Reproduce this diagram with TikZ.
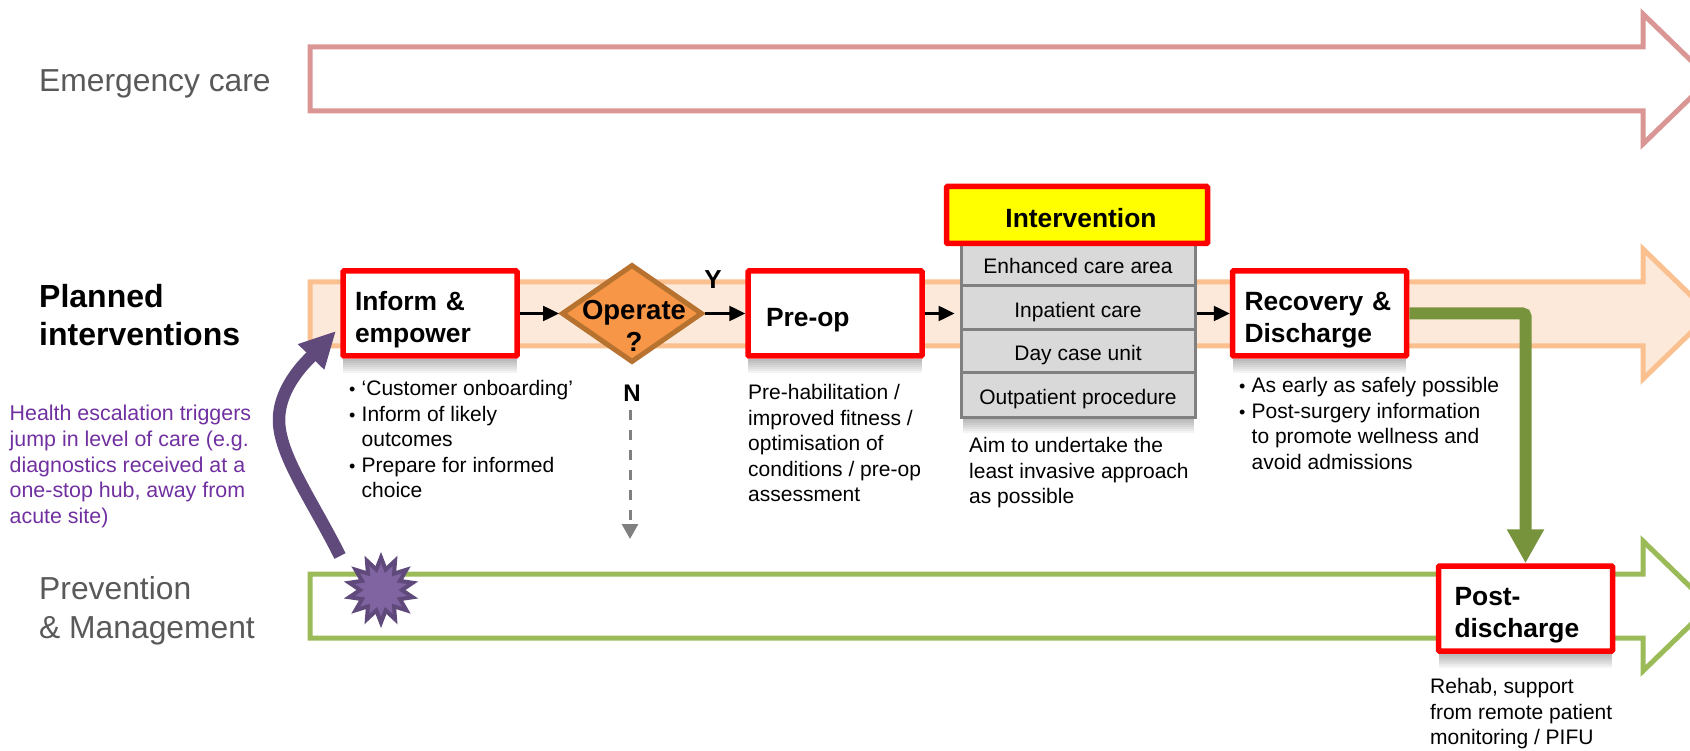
\documentclass[tikz,border=0pt]{standalone}
\usepackage{fontspec}
\setmainfont{Liberation Sans}
\usetikzlibrary{arrows.meta,calc,shapes.geometric}
\definecolor{emergline}{HTML}{D99694}
\definecolor{plannedline}{HTML}{FAC090}
\definecolor{plannedfill}{HTML}{FDE9D9}
\definecolor{preventline}{HTML}{9BBB59}
\definecolor{greentrack}{HTML}{77933C}
\definecolor{opfill}{HTML}{F79646}
\definecolor{opline}{HTML}{B7722F}
\definecolor{jumpline}{HTML}{604A7B}
\definecolor{jumpfill}{HTML}{8064A2}
\definecolor{jumptext}{HTML}{7030A0}
\definecolor{boxyellow}{RGB}{255,255,0}
\definecolor{boxred}{RGB}{255,0,0}
\newcommand{\boxfont}{\fontsize{26.4}{32}\selectfont\bfseries}
\newcommand{\bodyfont}{\fontsize{21}{25.6}\selectfont}
\newcommand{\lanefont}{\fontsize{31.8}{39}\selectfont}
\newcommand{\bul}{\makebox[12.5pt][l]{\fontsize{18}{18}\selectfont\textbullet}}
\newcommand{\hang}{\hspace*{12.5pt}}
\tikzset{
  stepbox/.style={draw=boxred,fill=white,line width=5.5pt,rounded corners=1pt,text width=150pt,inner xsep=12pt,inner ysep=0pt,
    minimum height=85pt,align=left,font=\boxfont,text height=32pt},
  introw/.style={draw=gray,fill=black!15,line width=3pt,minimum width=234pt,inner sep=0pt,font=\bodyfont,text height=21pt,text depth=2pt},
  note/.style={anchor=north west,align=left,inner sep=0pt,font=\bodyfont},
  lane/.style={anchor=west,align=left,inner sep=0pt,font=\lanefont},
  flow/.style={line width=2.5pt,-{Triangle[length=16pt,width=15pt]}}
}
\begin{document}
\begin{tikzpicture}[x=1pt,y=-1pt]
      \useasboundingbox (0,0) rectangle (1690,751);
      \clip (0,0) rectangle (1690,751);
      \foreach \cy/\cline/\cfill in {79/emergline/white,314/plannedline/plannedfill,606/preventline/white}
        \draw[line width=5pt,draw=\cline,fill=\cfill] (310,\cy-32)--(1643,\cy-32)--(1643,\cy-65)--(1710,\cy)--(1643,\cy+65)--(1643,\cy+32)--(310,\cy+32)--cycle;

      \node[lane,text=black!65] (emergency) at (39,84) {Emergency care};
      \node[lane,font=\fontsize{32}{38.6}\selectfont\bfseries] (planned) at (39,315) {Planned\\interventions};
      \node[lane,text=black!65] (prevention) at (39,611) {Prevention\\\& Management};

      \node[star,star points=14,star point ratio=1.55,minimum size=65pt,inner sep=0pt,draw=jumpline,fill=jumpfill,line width=4pt] (burst) at (381,590) {};
      \coordinate (jumpstart) at (340,556);
      \coordinate (jumpmid) at (279,420);
      \coordinate (jumpend) at (336,331);
      \draw[line width=12.5pt,jumpline,-{Triangle[length=36pt,width=34pt]}] (jumpstart) .. controls (312,500) and (279,455) .. (jumpmid) .. controls (279,385) and (310,358) .. (jumpend);

      \node[stepbox] (inform) at (430,313.5) {Inform \&\\empower};
      \node[diamond,minimum width=141pt,minimum height=98pt,inner sep=0pt,aspect=1.44,draw=opline,fill=opfill,line width=5pt] (operate) at (632,313.5) {};
      \node[align=center,inner sep=0pt,font=\fontsize{27.5}{32}\selectfont\bfseries] (operatetxt) at (634,326) {Operate\\?};
      \node[stepbox] (preop) at (835,313.5) {\hspace*{6pt}Pre-op};
      \node[introw,minimum height=44pt] (enhanced) at (1078,264) {Enhanced care area};
      \node[introw,minimum height=44pt] (inpatient) at (1078,308) {Inpatient care};
      \node[introw,minimum height=43pt] (daycase) at (1078,351.5) {Day case unit};
      \node[introw,minimum height=44pt] (outpatient) at (1078,395) {Outpatient procedure};
      \node[draw=boxred,fill=boxyellow,line width=5.5pt,rounded corners=1pt,minimum width=261pt,minimum height=57pt,inner sep=0pt,font=\boxfont,text height=26pt,text depth=0pt] (intervention) at (1077,215) {\hspace*{8pt}Intervention};
      \node[stepbox] (recovery) at (1319.5,313.5) {Recovery \&\\Discharge};
      \node[stepbox] (post) at (1525.5,608.5) {\hspace*{4pt}Post-\\\hspace*{4pt}discharge};

      \foreach \n in {inform,preop,outpatient,recovery,post}
        \foreach \d in {2,4,...,14}
          \fill[black,opacity=.045] ($(\n.south west)+(3,0)$) rectangle ($(\n.south east)+(-3,\d)$);

      \draw[flow] (inform.east)--(operate.west);
      \draw[flow] (operate.east)--(preop.west);
      \draw[flow,shorten >=5pt] (preop.east)--(inpatient.west |- preop.east);
      \draw[flow] (inpatient.east |- recovery.west)--(recovery.west);

      \node[inner sep=0pt,font=\fontsize{26}{30}\selectfont\bfseries] (yes) at (713,280) {Y};
      \node[inner sep=0pt,font=\fontsize{24}{28}\selectfont\bfseries] (no) at (632,393) {N};
      \coordinate (noend) at (630,539);
      \draw[line width=3pt,gray,dash pattern=on 10pt off 10pt,-{Triangle[length=15pt,width=16pt]},shorten <=9pt] (no.south -| noend)--(noend);

      \draw[line width=12pt,greentrack,rounded corners=3pt,-{Triangle[length=34pt,width=35pt]}] (recovery.east)-|(post.north);

      \node[note] (informtxt) at (349,380) {\bul ‘Customer onboarding’\\\bul Inform of likely\\\hang outcomes\\\bul Prepare for informed\\\hang choice};
      \node[note] (preoptxt) at (748,384) {Pre-habilitation /\\improved fitness /\\optimisation of\\conditions / pre-op\\assessment};
      \node[note] (aimtxt) at (969,437) {Aim to undertake the\\least invasive approach\\as possible};
      \node[note] (recoverytxt) at (1239,377) {\bul As early as safely possible\\\bul Post-surgery information\\\hang to promote wellness and\\\hang avoid admissions};
      \node[note] (posttxt) at (1430,678) {Rehab, support\\from remote patient\\monitoring / PIFU};
      \node[note,text=jumptext,font=\fontsize{21.4}{25.7}\selectfont] (jumptxt) at (9.5,405) {Health escalation triggers\\jump in level of care (e.g.\\diagnostics received at a\\one-stop hub, away from\\acute site)};
\end{tikzpicture}
\end{document}
